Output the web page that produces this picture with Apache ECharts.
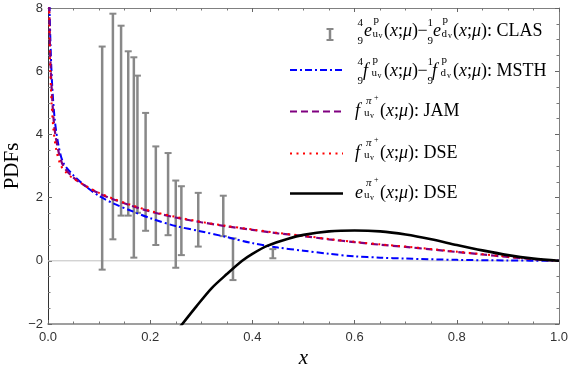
<!DOCTYPE html>
<html>
<head>
<meta charset="utf-8">
<script src="https://cdn.jsdelivr.net/npm/echarts@6/dist/echarts.min.js"></script>
<style>
  html, body { margin: 0; padding: 0; background: #fff; }
  #main { width: 570px; height: 369px; }
</style>
</head>
<body>
<div id="main"></div>
<script>
// CLAS points: x and the two ends of each error bar
var clasX    = [0.106, 0.127, 0.143, 0.157, 0.168, 0.175, 0.191, 0.211, 0.235, 0.250, 0.261, 0.294, 0.343, 0.362, 0.440]
var clasLow  = [-0.28, 0.68, 1.43, 1.43, 0.10, 1.52, 0.95, 0.50, 0.81, -0.22, 0.18, 0.45, 0.78, -0.61, 0.08]
var clasHigh = [6.78, 7.82, 7.44, 6.63, 6.44, 5.86, 4.68, 3.62, 3.41, 2.54, 2.36, 2.15, 2.06, 0.71, 0.37]

// 4/9 f_uv - 1/9 f_dv : MSTH
var msthCurve = [[0.002, 8.6], [0.005, 6.8], [0.008, 5.6], [0.013, 4.5], [0.02, 3.7], [0.03, 3.1], [0.05, 2.7], [0.075, 2.34],
  [0.1, 2.05], [0.13, 1.8], [0.16, 1.6], [0.2, 1.35], [0.25, 1.1], [0.3, 0.93], [0.35, 0.75], [0.4, 0.56], [0.45, 0.42],
  [0.5, 0.32], [0.55, 0.22], [0.6, 0.14], [0.65, 0.1], [0.7, 0.07], [0.8, 0.03], [0.9, 0.01], [1.0, 0]]
// f_uv pion : JAM
var jamCurve = [[0.002, 8.4], [0.004, 6.7], [0.007, 5.5], [0.012, 4.3], [0.02, 3.5], [0.03, 3.0], [0.05, 2.63], [0.075, 2.35],
  [0.1, 2.13], [0.13, 1.93], [0.16, 1.76], [0.2, 1.56], [0.25, 1.37], [0.3, 1.22], [0.35, 1.09], [0.4, 0.98], [0.45, 0.87],
  [0.5, 0.78], [0.55, 0.68], [0.6, 0.59], [0.65, 0.51], [0.7, 0.44], [0.75, 0.36], [0.8, 0.28], [0.85, 0.2], [0.9, 0.12],
  [0.95, 0.05], [1.0, 0]]
// f_uv pion : DSE
var dseFCurve = [[0.002, 8.3], [0.004, 6.3], [0.007, 5.0], [0.011, 4.1], [0.017, 3.45], [0.025, 3.02], [0.035, 2.8], [0.05, 2.6],
  [0.075, 2.36], [0.1, 2.15], [0.13, 1.95], [0.16, 1.78], [0.2, 1.58], [0.25, 1.39], [0.3, 1.23], [0.35, 1.1], [0.4, 0.99],
  [0.45, 0.88], [0.5, 0.79], [0.55, 0.69], [0.6, 0.6], [0.65, 0.52], [0.7, 0.45], [0.75, 0.37], [0.8, 0.29], [0.85, 0.21],
  [0.9, 0.13], [0.95, 0.06], [1.0, 0]]
// e_uv pion : DSE
var dseECurve = [[0.258, -2.1], [0.29, -1.45], [0.32, -0.87], [0.35, -0.42], [0.38, 0.0], [0.4, 0.22], [0.43, 0.48], [0.47, 0.7],
  [0.5, 0.82], [0.55, 0.93], [0.6, 0.96], [0.65, 0.93], [0.7, 0.83], [0.75, 0.68], [0.8, 0.5], [0.85, 0.33], [0.9, 0.18],
  [0.95, 0.07], [1.0, 0]]
var zeroLine = [[0, 0], [1, 0]]

var serif = '"Liberation Serif", "Times New Roman", serif'
var sans = '"Liberation Sans", Arial, sans-serif'
var FS = 18

var myChart = echarts.init(document.getElementById('main'))

// one piece of legend text, placed by its baseline
function t(x, base, s, size, italic) {
  return {
    type: 'text', x: x, y: base - size * 0.3, silent: true, z: 100,
    style: {
      text: s, fontSize: size, fontFamily: serif, fontStyle: italic ? 'italic' : 'normal',
      fill: '#000', verticalAlign: 'middle', align: 'left'
    }
  }
}
function args(x, base, tail) {
  return {
    type: 'text', x: x, y: base - FS * 0.3, silent: true, z: 100,
    style: {
      text: '({i|x};{i|μ})' + tail, fontSize: FS, fontFamily: serif, fill: '#000',
      verticalAlign: 'middle', align: 'left',
      rich: { i: { fontStyle: 'italic', fontSize: FS, fontFamily: serif } }
    }
  }
}
// 4/9 q_uv - 1/9 q_dv : NAME
function diffRow(B, q, name) {
  var qo = q === 'e' ? 0 : -1
  return [
    t(357.5, B - 10.5, '4', 11), t(357.5, B + 8, '9', 11),
    t(364 + qo, B, q, FS, true), t(373.5 + qo, B - 13, 'p', 11),
    t(372.5 + qo, B + 0.5, 'u', 11), t(378.5 + qo, B + 2, 'v', 8),
    args(384, B, ''),
    t(417.5, B, '−', FS),
    t(427.5, B - 10.5, '1', 11), t(427.5, B + 8, '9', 11),
    t(433 + qo, B, q, FS, true), t(442.5 + qo, B - 13, 'p', 11),
    t(441.5 + qo, B + 0.5, 'd', 11), t(448 + qo, B + 2, 'v', 8),
    args(453, B, ': ' + name)
  ]
}
// q_uv^{pi+} : NAME
function pionRow(B, q, name) {
  return [
    t(355, B, q, FS, true),
    t(366, B - 12, 'π', 11, true), t(374, B - 16, '+', 8),
    t(364, B + 0.5, 'u', 11), t(370, B + 2, 'v', 8),
    args(380, B, ': ' + name)
  ]
}
function sym(y, color, dash, width) {
  return { type: 'line', silent: true, z: 100,
    shape: { x1: 290, y1: y, x2: 343, y2: y },
    style: { stroke: color, lineWidth: width, lineDash: dash } }
}

var legend = [].concat(
  [
    { type: 'line', silent: true, z: 100, shape: { x1: 330, y1: 29, x2: 330, y2: 40 }, style: { stroke: '#888', lineWidth: 2.5 } },
    { type: 'line', silent: true, z: 100, shape: { x1: 326.5, y1: 29, x2: 333.5, y2: 29 }, style: { stroke: '#888', lineWidth: 2 } },
    { type: 'line', silent: true, z: 100, shape: { x1: 326.5, y1: 40, x2: 333.5, y2: 40 }, style: { stroke: '#888', lineWidth: 2 } }
  ],
  diffRow(36.5, 'e', 'CLAS'),
  [sym(70, '#0000ff', [7, 3, 2, 3], 2)],
  diffRow(76.3, 'f', 'MSTH'),
  [sym(111.5, '#800080', [7, 4], 2.2)],
  pionRow(116.3, 'f', 'JAM'),
  [sym(153.5, '#ff0000', [2, 4.5], 2)],
  pionRow(158.3, 'f', 'DSE'),
  [sym(193.5, '#000', null, 2.6)],
  pionRow(198.3, 'e', 'DSE')
)

function xAxisOf(pos, labels) {
  return {
    type: 'value', position: pos, min: 0, max: 1, interval: 0.2,
    name: labels ? 'x' : '', nameLocation: 'middle', nameGap: 24, nameMoveOverlap: false,
    nameTextStyle: { fontFamily: serif, fontStyle: 'italic', fontSize: 21, color: '#000' },
    axisLine: { show: true, onZero: false, lineStyle: { color: '#808080', width: labels ? 1.6 : 1 } },
    axisTick: { show: true, inside: true, length: 4, lineStyle: { color: '#666' } },
    minorTick: { show: true, splitNumber: 4, length: 2.5, lineStyle: { color: '#777' } },
    axisLabel: { show: labels, margin: 7, fontFamily: sans, fontSize: 13, color: '#333',
      formatter: function (v) { return v.toFixed(1) } },
    splitLine: { show: false }
  }
}
function yAxisOf(pos, labels) {
  return {
    type: 'value', position: pos, min: -2, max: 8, interval: 2,
    name: labels ? 'PDFs' : '', nameLocation: 'middle', nameGap: 25, nameMoveOverlap: false,
    nameTextStyle: { fontFamily: serif, fontSize: 21, color: '#000' },
    axisLine: { show: true, onZero: false, lineStyle: { color: labels ? '#333' : '#808080', width: 1 } },
    axisTick: { show: true, inside: true, length: 4, lineStyle: { color: '#666' } },
    minorTick: { show: true, splitNumber: 4, length: 2.5, lineStyle: { color: '#777' } },
    axisLabel: { show: labels, margin: 5, fontFamily: sans, fontSize: 13, color: '#333',
      formatter: function (v) { return v < 0 ? '−' + Math.abs(v) : String(v) } },
    splitLine: { show: false }
  }
}

var option = {
  animation: false,
  backgroundColor: '#fff',
  grid: { left: 48, right: 11, top: 8, bottom: 45, containLabel: false, outerBoundsMode: 'none' },
  xAxis: [xAxisOf('bottom', true), xAxisOf('top', false)],
  yAxis: [yAxisOf('left', true), yAxisOf('right', false)],
  graphic: legend,
  series: [
    {
      type: 'line', name: 'zero', data: zeroLine, showSymbol: false, silent: true, z: 1,
      lineStyle: { color: '#c0c0c0', width: 1 }
    },
    {
      type: 'custom', name: 'CLAS', z: 2,
      data: clasX.map(function (x, i) { return [x, clasLow[i], clasHigh[i]] }),
      encode: { x: 0, y: [1, 2] },
      renderItem: function (params, api) {
        var lo = api.coord([api.value(0), api.value(1)])
        var hi = api.coord([api.value(0), api.value(2)])
        var st = { stroke: '#888', lineWidth: 2.5 }
        return {
          type: 'group', children: [
            { type: 'line', shape: { x1: lo[0], y1: lo[1], x2: hi[0], y2: hi[1] }, style: st },
            { type: 'line', shape: { x1: lo[0] - 3.5, y1: lo[1], x2: lo[0] + 3.5, y2: lo[1] }, style: { stroke: '#888', lineWidth: 2 } },
            { type: 'line', shape: { x1: hi[0] - 3.5, y1: hi[1], x2: hi[0] + 3.5, y2: hi[1] }, style: { stroke: '#888', lineWidth: 2 } }
          ]
        }
      }
    },
    {
      type: 'line', name: 'MSTH', data: msthCurve, showSymbol: false, smooth: 0.3, z: 3,
      lineStyle: { color: '#0000ff', width: 2, type: [7, 3, 2, 3] }
    },
    {
      type: 'line', name: 'JAM', data: jamCurve, showSymbol: false, smooth: 0.3, z: 4,
      lineStyle: { color: '#800080', width: 2.2, type: [7, 4] }
    },
    {
      type: 'line', name: 'DSE f', data: dseFCurve, showSymbol: false, smooth: 0.3, z: 5,
      lineStyle: { color: '#ff0000', width: 2, type: [2, 4.5] }
    },
    {
      type: 'line', name: 'DSE e', data: dseECurve, showSymbol: false, smooth: 0.3, z: 6,
      lineStyle: { color: '#000', width: 2.6 }
    }
  ]
}

myChart.setOption(option)
</script>
</body>
</html>
